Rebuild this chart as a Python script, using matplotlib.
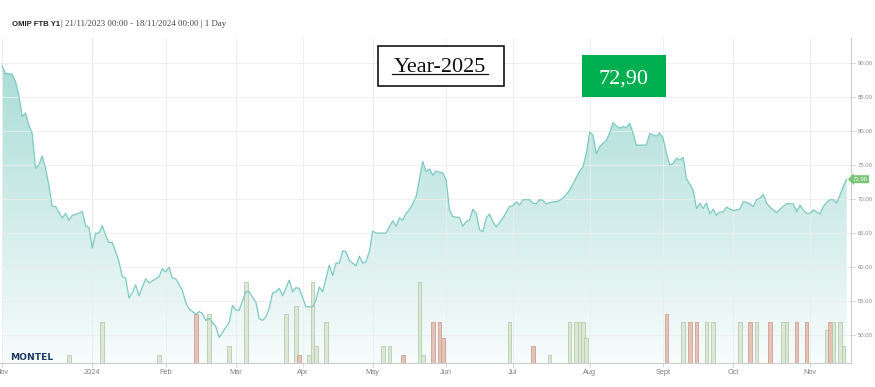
import numpy as np
import matplotlib
matplotlib.use('Agg')
import matplotlib.pyplot as plt
from matplotlib.colors import LinearSegmentedColormap
from matplotlib.patches import Rectangle
from matplotlib.lines import Line2D

# trading session number (0 = 21/11/2023) and daily settlement price, EUR/MWh
session = [0, 1, 3, 4, 5, 6, 7, 8, 9, 10, 11, 12, 13, 14, 15, 16, 18, 19, 20, 21, 23, 24, 25, 26,
           27, 28, 29, 30, 31, 32, 33, 34, 35, 36, 37, 38, 39, 40, 41, 42, 43, 44, 46, 47, 48,
           49, 50, 51, 52, 54, 55, 56, 57, 58, 59, 60, 61, 62, 64, 65, 68, 69,
           70, 71, 73, 74, 75, 76, 77, 78, 79, 80, 81, 82, 83, 84, 86, 87, 88, 89,
           91, 93, 94, 95, 96, 98, 99, 100, 101, 102, 103, 104, 106, 107, 108, 109, 110,
           111, 112, 115, 117, 118, 119, 120, 121, 122, 124, 125, 126, 127, 128, 129, 130, 132,
           133, 134, 135, 137, 138, 139, 140, 141, 142, 143, 144, 145, 146, 147, 148, 150, 152,
           153, 154, 155, 156, 158, 159, 160, 161, 162, 163, 165, 166, 167, 168, 170, 171, 173, 174, 175,
           176, 177, 178, 179, 181, 182, 183, 184, 185, 186, 187, 188, 189, 190, 193, 194, 195, 196, 197,
           198, 199, 200, 201, 202, 203, 204, 205, 207, 208, 209, 210, 211, 212, 213, 214, 215, 216, 217,
           219, 221, 222, 223, 224, 225, 226, 227, 228, 229, 230, 232, 233, 235, 237, 238, 239, 240, 241,
           242, 243, 244, 245, 246, 247, 248, 249, 250, 251, 252, 253]
price = [89.5, 88.4, 88.3, 87.2, 85.2, 82.1, 82.6, 80.8, 79.6, 74.5, 75.0, 76.3, 74.5, 72.0, 68.9, 68.9, 67.2, 67.9, 66.9, 67.6, 67.9, 68.2, 66.1, 65.8,
         62.8, 65.0, 65.0, 66.1, 64.7, 63.6, 63.6, 62.3, 60.8, 58.6, 58.4, 55.5, 56.3, 57.4, 55.8, 57.1, 58.3, 57.7, 58.3, 58.6, 59.8,
         59.3, 60.0, 58.4, 58.3, 56.6, 54.8, 53.9, 53.5, 53.1, 53.5, 53.2, 52.2, 52.5, 51.3, 49.7, 51.9, 54.4,
         53.7, 53.7, 56.4, 56.4, 55.6, 54.9, 52.5, 52.2, 52.7, 54.0, 56.2, 56.4, 56.9, 55.8, 58.1, 56.4, 57.0, 56.9,
         54.2, 54.2, 55.2, 57.1, 56.4, 60.3, 58.8, 60.6, 60.6, 62.4, 62.3, 61.0, 60.2, 61.6, 60.6, 60.8, 62.3,
         65.3, 65.0, 65.0, 66.8, 66.0, 67.2, 66.9, 67.9, 68.4, 70.3, 72.9, 75.5, 74.0, 74.4, 73.5, 74.1, 73.8,
         72.8, 68.4, 67.4, 67.3, 66.0, 66.7, 66.9, 68.5, 67.9, 65.5, 65.2, 67.2, 67.8, 66.7, 65.9, 67.2, 68.9,
         69.0, 69.6, 69.1, 69.9, 69.9, 69.4, 69.3, 69.9, 69.8, 69.3, 69.6, 69.6, 69.8, 70.1, 71.3, 72.2, 74.1, 74.7, 76.7,
         79.8, 79.4, 76.6, 77.7, 78.6, 79.7, 81.2, 80.7, 80.4, 80.6, 80.5, 81.1, 79.7, 77.9, 77.9, 79.6, 79.4, 79.2, 79.7,
         78.9, 76.7, 75.0, 75.2, 76.0, 75.7, 76.1, 73.0, 71.3, 68.6, 69.4, 68.6, 69.4, 67.8, 68.5, 67.6, 68.1, 68.1, 68.8,
         68.3, 68.5, 69.6, 69.5, 69.3, 68.9, 69.9, 70.1, 70.7, 69.4, 68.8, 68.0, 68.5, 69.3, 69.3, 68.1, 69.1, 68.4, 67.9,
         67.9, 68.4, 68.1, 67.8, 68.9, 69.5, 69.9, 69.9, 69.4, 70.6, 71.9, 72.9]

# traded volume bars (session, lots, up/down)
bar_session = [20, 30, 47, 58, 62, 68, 73, 85, 88, 89, 92, 93, 94, 97, 114, 116, 120, 125, 126,
               129, 131, 132, 152, 159, 164, 170, 172, 173, 174, 175, 199, 204, 206, 208, 211, 213,
               221, 224, 226, 230, 234, 235, 238, 241, 247, 248, 249, 251, 252]
bar_volume = [1, 5, 1, 6, 6, 2, 10, 6, 7, 1, 1, 10, 2, 5, 2, 2, 1, 10, 1,
              5, 5, 3, 5, 2, 1, 5, 5, 5, 5, 3, 6, 5, 5, 5, 5, 5,
              5, 5, 5, 5, 5, 5, 5, 5, 4, 5, 5, 5, 2]
bar_side = ['g', 'g', 'g', 'r', 'g', 'g', 'g', 'g', 'g', 'r', 'g', 'g', 'g', 'g', 'g', 'g', 'r', 'g', 'g',
            'r', 'r', 'r', 'g', 'r', 'g', 'g', 'g', 'g', 'g', 'g', 'r', 'g', 'r', 'r', 'g', 'g',
            'g', 'r', 'g', 'r', 'g', 'g', 'r', 'r', 'g', 'r', 'g', 'g', 'g']
vol_top = 40  # volume at top of the panel

month_start = [0, 27, 49, 70, 90, 111, 133, 153, 176, 198, 219, 242]
month_label = ['Nov', '2024', 'Feb', 'Mar', 'Apr', 'May', 'Jun', 'Jul', 'Aug', 'Sept', 'Oct', 'Nov']

W, H = 875, 387


def fx(px):
    return px / W


def fy(py):
    return 1 - py / H


fig = plt.figure(figsize=(W / 100, H / 100), dpi=100)
fig.patch.set_facecolor('white')
ax = fig.add_axes([0, fy(362.7), fx(850.7), (362.7 - 38) / H])

x0, x1 = -0.65, 254.2
y0, y1 = 46, 93.6

# gradient area under the line
poly = ax.fill_between(session, y0, price, facecolor='none', edgecolor='none')
grad = np.linspace(0, 1, 256).reshape(-1, 1)
cmap = LinearSegmentedColormap.from_list('area', ['#f8fcfc', '#a3dad4'])
im = ax.imshow(grad, extent=(x0, x1, y0, y1), origin='lower', aspect='auto', cmap=cmap, zorder=1)
im.set_clip_path(poly.get_paths()[0], transform=ax.transData)

# volume bars
bar_face = {'g': '#dbe8d5', 'r': '#e4c2b7'}
bar_edge = {'g': '#b6ccaf', 'r': '#cfa293'}
ax.bar(bar_session, np.array(bar_volume) / vol_top, bottom=0, width=1.1,
       transform=ax.get_xaxis_transform(),
       color=[bar_face[s] for s in bar_side], edgecolor=[bar_edge[s] for s in bar_side],
       linewidth=0.6, zorder=2)

ax.plot(session, price, color='#7ccac1', linewidth=0.9, zorder=3)

ax.set_xlim(x0, x1)
ax.set_ylim(y0, y1)

# axes styling
ax.set_facecolor('white')
for s in ['top', 'left']:
    ax.spines[s].set_visible(False)
for s in ['right', 'bottom']:
    ax.spines[s].set_color('#cccccc')
    ax.spines[s].set_linewidth(0.8)

ax.yaxis.tick_right()
ax.set_yticks(range(50, 95, 5))
ax.set_yticklabels([f'{v:.2f}' for v in range(50, 95, 5)])
ax.tick_params(axis='y', length=3, width=0.6, color='#cccccc', pad=2,
               labelsize=4.3, labelcolor='#8a8a8a')
ax.set_xticks(month_start)
ax.set_xticklabels(month_label, fontname='Liberation Sans')
ax.tick_params(axis='x', length=3, width=0.6, color='#cccccc', pad=1.5,
               labelsize=5.3, labelcolor='#808080')
for lab in ax.get_yticklabels():
    lab.set_fontname('Liberation Sans')

ax.grid(axis='y', color='#eeeeee', linewidth=0.6, zorder=0)
ax.grid(axis='x', color='#ededed', linewidth=0.6, zorder=0)
ax.axvline(27, color='#d6d6d6', linewidth=0.8, zorder=0.5)

# last price tag
ax.annotate(f'{price[-1]:.2f}', xy=(session[-1], price[-1]), xytext=(9.5, 0),
            textcoords='offset points', ha='center', va='center',
            fontsize=4.3, color='white', fontname='Liberation Sans',
            bbox=dict(boxstyle='larrow,pad=0.25', fc='#79c474', ec='none'),
            annotation_clip=False, zorder=5)

# header
fig.text(fx(12.5), fy(26.5), 'OMIP FTB Y1', fontsize=5.6, fontweight='bold',
         fontname='Liberation Sans', color='#222222', va='baseline')
fig.text(fx(61), fy(26.5), '| 21/11/2023 00:00 - 18/11/2024 00:00 | 1 Day', fontsize=6.4,
         fontname='Liberation Serif', color='#444444', va='baseline')

# Montel logo
fig.text(fx(10), fy(360.5), 'MONTEL', fontsize=6.6, fontweight='bold',
         fontname='DejaVu Sans', color='#1e3a66', va='baseline')

# Year box
fig.add_artist(Rectangle((fx(378.3), fy(86)), fx(504.3) - fx(378.3), fy(45.7) - fy(86),
                         transform=fig.transFigure, fc='white', ec='black', lw=1.1, zorder=6))
fig.text(fx(440), fy(72), 'Year-2025', fontsize=16, fontname='Liberation Serif',
         color='#111111', ha='center', va='baseline', zorder=7)
fig.add_artist(Line2D([fx(392.3), fx(487.7)], [fy(74), fy(74)], transform=fig.transFigure,
                      color='#111111', lw=0.9, zorder=7))

# price box
fig.add_artist(Rectangle((fx(582.3), fy(97.3)), fx(665.7) - fx(582.3), fy(55) - fy(97.3),
                         transform=fig.transFigure, fc='#00b050', ec='none', zorder=6))
fig.text(fx(624), fy(84), '72,90', fontsize=16, fontname='Liberation Serif',
         color='white', ha='center', va='baseline', zorder=7)

fig.savefig('out.png', dpi=100)
